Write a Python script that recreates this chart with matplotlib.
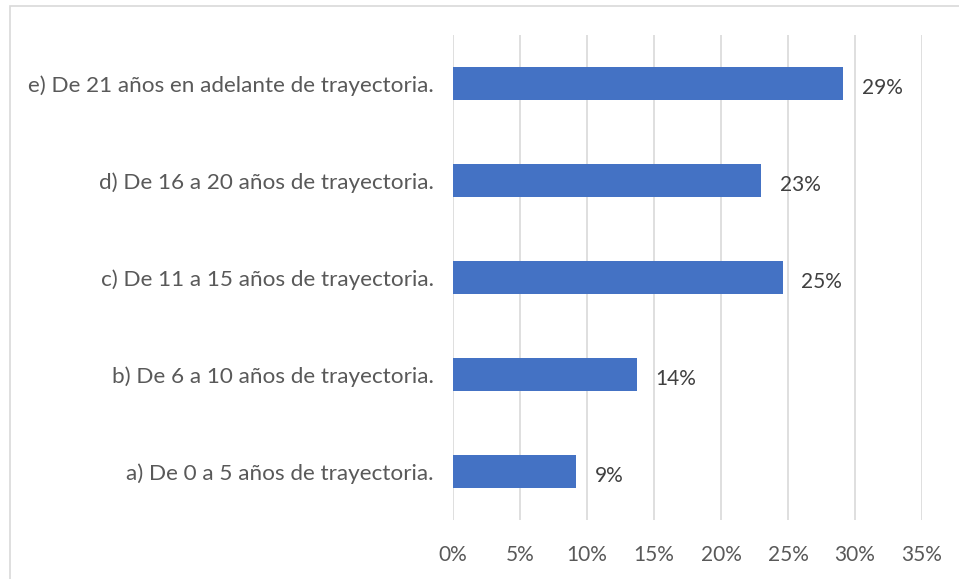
import matplotlib.pyplot as plt
from matplotlib.patches import Rectangle

categories = [
    "a) De 0 a 5 años de trayectoria.",
    "b) De 6 a 10 años de trayectoria.",
    "c) De 11 a 15 años de trayectoria.",
    "d) De 16 a 20 años de trayectoria.",
    "e) De 21 años en adelante de trayectoria.",
]
values = [9.2, 13.7, 24.6, 23.0, 29.1]
xticks = [0, 5, 10, 15, 20, 25, 30, 35]

plt.rcParams['font.family'] = ['Lato', 'DejaVu Sans']

fig = plt.figure(figsize=(9.59, 5.79), dpi=100)
W, H = 959, 579
ax = fig.add_axes([453 / W, 1 - 520 / H, (922 - 453) / W, (520 - 35) / H])

# chart border
fig.patches.append(Rectangle((10 / W, -0.1), 1.2, 1 - 6 / H + 0.1,
                             transform=fig.transFigure, fill=False,
                             edgecolor="#D9D9D9", linewidth=1.2))

ypos = range(len(categories))
ax.barh(ypos, values, height=0.35, color="#4472C4", zorder=3)
for y, v in zip(ypos, values):
    ax.text(v + 1.4, y - 0.05, f"{v:.0f}%", va="center", ha="left",
            fontsize=15, color="#404040")

ax.set_xlim(0, 35)
ax.set_ylim(-0.5, len(categories) - 0.5)
ax.set_xticks(xticks)
ax.set_xticklabels([f"{t}%" for t in xticks])
ax.set_yticks(list(ypos))
ax.set_yticklabels(categories)
ax.grid(axis="x", color="#D9D9D9", linewidth=1.2, zorder=0)
for s in ax.spines.values():
    s.set_visible(False)
ax.tick_params(length=0, colors="#595959")
ax.tick_params(axis="x", pad=18, labelsize=15)
ax.tick_params(axis="y", pad=14, labelsize=16.2)

fig.savefig("out.png", dpi=100)
